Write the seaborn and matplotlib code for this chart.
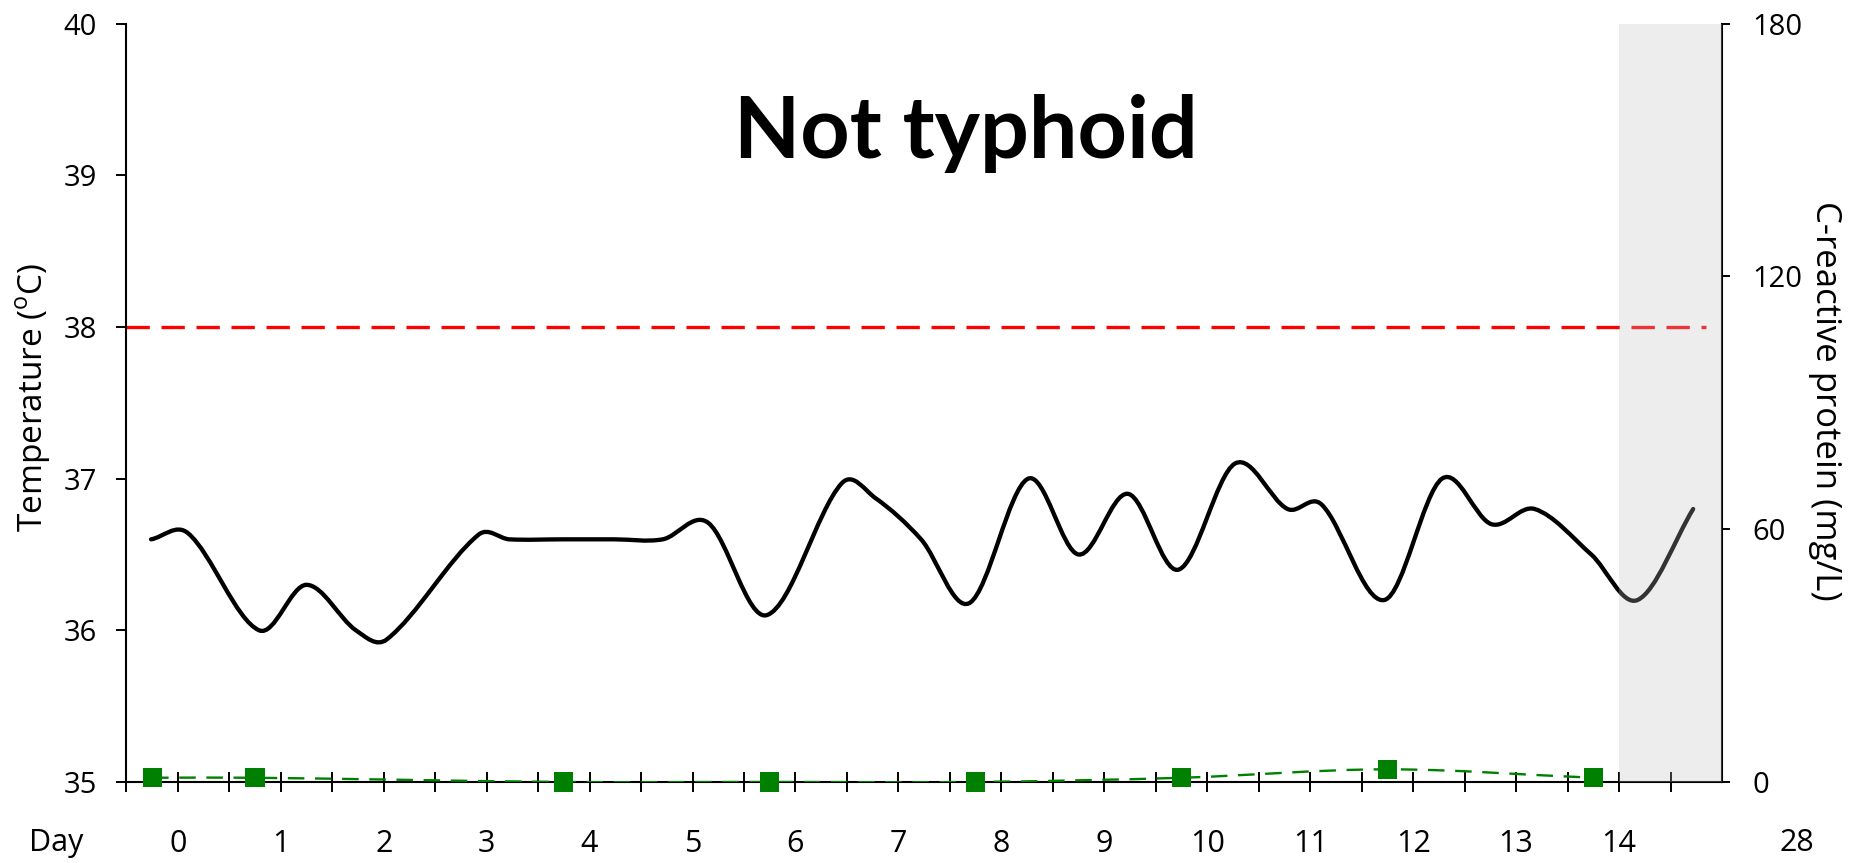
import numpy as np
import matplotlib
matplotlib.use("Agg")
import matplotlib.pyplot as plt
from matplotlib.path import Path
from matplotlib.patches import PathPatch
import seaborn as sns

# ---------------------------
# Data
# ---------------------------
temp_day = [-0.26, 0.10, 0.79, 1.25, 1.73, 2.03, 2.92, 3.22, 3.74, 4.24, 4.71,
            5.15, 5.72, 6.45, 6.78, 7.22, 7.69, 8.26, 8.75, 9.23, 9.72, 10.27,
            10.78, 11.11, 11.72, 12.28, 12.76, 13.18, 13.73, 14.18, 14.72]
temp_c = [36.60, 36.64, 36.00, 36.30, 36.00, 35.94, 36.63, 36.60, 36.60, 36.60, 36.60,
          36.71, 36.10, 36.97, 36.87, 36.60, 36.18, 37.00, 36.50, 36.90, 36.40, 37.10,
          36.80, 36.83, 36.20, 37.00, 36.70, 36.80, 36.50, 36.20, 36.80]

crp_day = [-0.25, 0.75, 3.75, 5.75, 7.75, 9.75, 11.75, 13.75]
crp_mgl = [1, 1, 0, 0, 0, 1, 3, 1]

day_ticks = list(range(15))
day_labels = [str(d) for d in day_ticks]
temp_ticks = [35, 36, 37, 38, 39, 40]
crp_ticks = [0, 60, 120, 180]
fever_threshold = 38


def smooth_path(xs, ys):
    # smoothed line (cubic Hermite through the points, drawn as Bezier curves)
    x = np.asarray(xs, float)
    y = np.asarray(ys, float)
    n = len(x)
    m = np.zeros(n)
    m[0] = (y[1] - y[0]) / (x[1] - x[0])
    m[-1] = (y[-1] - y[-2]) / (x[-1] - x[-2])
    for i in range(1, n - 1):
        m[i] = (y[i + 1] - y[i - 1]) / (x[i + 1] - x[i - 1])
    verts = [(x[0], y[0])]
    codes = [Path.MOVETO]
    for i in range(n - 1):
        h = x[i + 1] - x[i]
        verts += [(x[i] + h / 3, y[i] + m[i] * h / 3),
                  (x[i + 1] - h / 3, y[i + 1] - m[i + 1] * h / 3),
                  (x[i + 1], y[i + 1])]
        codes += [Path.CURVE4] * 3
    return Path(verts, codes)


sns.set_style("ticks")
plt.rcParams['font.family'] = ['Open Sans', 'DejaVu Sans']
plt.rcParams['mathtext.fontset'] = 'custom'
plt.rcParams['mathtext.rm'] = 'Open Sans'
plt.rcParams['text.color'] = 'black'
plt.rcParams['axes.labelcolor'] = 'black'
plt.rcParams['xtick.color'] = 'black'
plt.rcParams['ytick.color'] = 'black'

fig = plt.figure(figsize=(18.58, 8.63), dpi=100)
ax = fig.add_axes([0.068, 0.0939, 0.8588, 0.8786])
ax2 = ax.twinx()

# temperature
ax.add_patch(PathPatch(smooth_path(temp_day, temp_c), facecolor='none',
                       edgecolor='black', lw=3.1, capstyle='round', zorder=3))
ax.axhline(fever_threshold, xmin=0, xmax=0.99, color='#ff0000', lw=2.4,
           linestyle=(0, (7, 3.5)), zorder=2)

# CRP
ax2.add_patch(PathPatch(smooth_path(crp_day, crp_mgl), facecolor='none',
                        edgecolor='#008000', lw=1.7, linestyle=(0, (7, 4.5)), zorder=3))
sns.scatterplot(x=crp_day, y=crp_mgl, ax=ax2, marker='s', s=190, color='#008000',
                edgecolor='none', linewidth=0, zorder=4)
ax2.collections[-1].set_clip_on(False)

# shaded region past day 14
ax2.axvspan(14, 15, color='#bdbdbd', alpha=0.27, lw=0, zorder=6)

ax.set_xlim(-0.5, 15)
ax.set_ylim(35, 40)
ax2.set_ylim(0, 180)

ax.set_yticks(temp_ticks)
ax.set_yticklabels([str(t) for t in temp_ticks])
ax2.set_yticks(crp_ticks)
ax2.set_yticklabels([str(t) for t in crp_ticks])
ax.set_xticks(day_ticks)
ax.set_xticklabels(day_labels)
ax.set_xticks(np.arange(-0.5, 15.01, 1.0), minor=True)

ax.tick_params(axis='x', which='both', direction='inout', length=14, width=1.4,
               labelsize=22, pad=27, color='black')
ax.tick_params(axis='y', direction='out', length=7, width=1.4, labelsize=21, pad=14)
ax2.tick_params(axis='y', direction='out', length=6, width=1.4, labelsize=21, pad=16)

for s in ['top', 'right']:
    ax.spines[s].set_visible(False)
for s in ['top', 'left', 'bottom']:
    ax2.spines[s].set_visible(False)
for sp in [ax.spines['left'], ax.spines['bottom'], ax2.spines['right']]:
    sp.set_linewidth(1.5)
    sp.set_color('black')
ax.grid(False)
ax2.grid(False)

row_y = 1 - 843 / 863
fig.text(1797 / 1858, row_y, "28", fontsize=22, ha='center', va='center')
fig.text(56 / 1858, row_y, "Day", fontsize=22, ha='center', va='center')
fig.text(34 / 1858, 1 - 397 / 863, r"Temperature ($^\mathrm{o}$C)", fontsize=24,
         rotation=90, ha='center', va='center')
fig.text(1825 / 1858, 1 - 401 / 863, "C-reactive protein (mg/L)", fontsize=25,
         rotation=270, ha='center', va='center')
fig.text(966 / 1858, 1 - 158 / 863, "Not typhoid", fontsize=62, fontweight='bold',
         family=['Lato', 'DejaVu Sans'], ha='center', va='baseline')

plt.savefig("out.png", dpi=100)
